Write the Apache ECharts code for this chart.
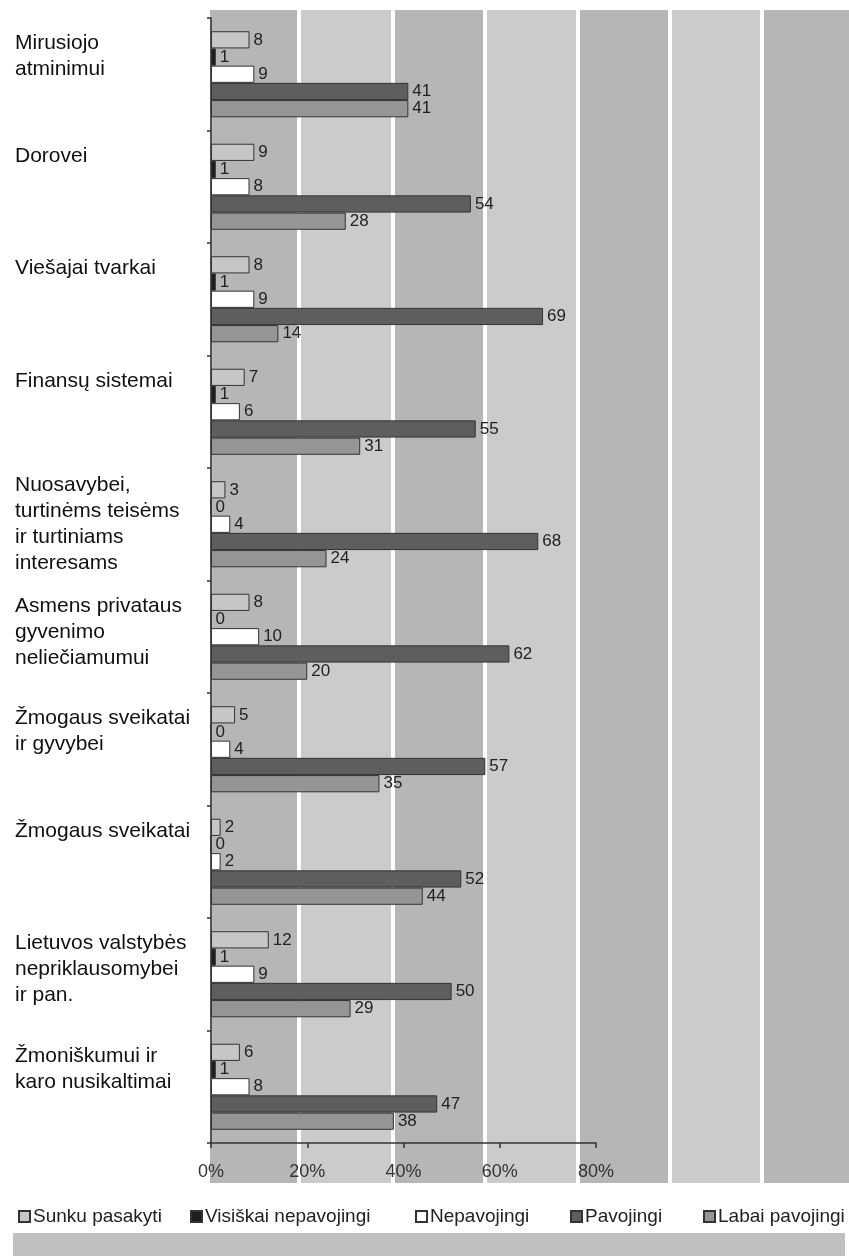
<!DOCTYPE html>
<html>
<head>
<meta charset="utf-8">
<script src="https://cdn.jsdelivr.net/npm/echarts@6/dist/echarts.min.js"></script>
<style>
html,body{margin:0;padding:0;background:#fff;}
#chart{width:849px;height:1256px;}
</style>
</head>
<body>
<div id="chart"></div>
<script>
var categories = [
  'Mirusiojo\natminimui',
  'Dorovei',
  'Viešajai tvarkai',
  'Finansų sistemai',
  'Nuosavybei,\nturtinėms teisėms\nir turtiniams\ninteresams',
  'Asmens privataus\ngyvenimo\nneliečiamumui',
  'Žmogaus sveikatai\nir gyvybei',
  'Žmogaus sveikatai',
  'Lietuvos valstybės\nnepriklausomybei\nir pan.',
  'Žmoniškumui ir\nkaro nusikaltimai'
];
var seriesNames = ['Sunku pasakyti', 'Visiškai nepavojingi', 'Nepavojingi', 'Pavojingi', 'Labai pavojingi'];
var sunkuPasakyti      = [8, 9, 8, 7, 3, 8, 5, 2, 12, 6];
var visiskaiNepavojingi = [1, 1, 1, 1, 0, 0, 0, 0, 1, 1];
var nepavojingi        = [9, 8, 9, 6, 4, 10, 4, 2, 9, 8];
var pavojingi          = [41, 54, 69, 55, 68, 62, 57, 52, 50, 47];
var labaiPavojingi     = [41, 28, 14, 31, 24, 20, 35, 44, 29, 38];
var xTicks = [0, 20, 40, 60, 80];

var seriesValues = [sunkuPasakyti, visiskaiNepavojingi, nepavojingi, pavojingi, labaiPavojingi];
var fills = ['#c6c6c6', '#1e1e1e', '#ffffff', '#5e5e5e', '#959595'];
var FONT = '"Liberation Sans", Arial, Helvetica, sans-serif';

var chart = echarts.init(document.getElementById('chart'), null, {renderer: 'canvas'});

var stripes = [
  [210, 297, '#b6b6b6'], [301, 391, '#cbcbcb'], [395, 483, '#b6b6b6'],
  [487, 576, '#cbcbcb'], [580, 668, '#b6b6b6'], [672, 760, '#cbcbcb'], [764, 849, '#b6b6b6']
];
var graphics = stripes.map(function (s) {
  return {type: 'rect', silent: true, z: -10, shape: {x: s[0], y: 10, width: s[1] - s[0], height: 1173}, style: {fill: s[2]}};
});
graphics.push({type: 'rect', silent: true, z: -10, shape: {x: 13, y: 1233, width: 832, height: 23}, style: {fill: '#c0c0c0'}});

var series = seriesNames.map(function (name, i) {
  return {
    name: name,
    type: 'bar',
    data: seriesValues[i],
    barGap: '0%',
    barCategoryGap: '23.5%',
    itemStyle: {color: fills[i], borderColor: '#333', borderWidth: 1},
    label: {show: true, position: 'right', distance: 4, color: '#222', fontSize: 17, fontFamily: FONT},
    emphasis: {disabled: true}
  };
});

var legendLefts = [13, 185, 410, 565, 698];
var legends = seriesNames.map(function (name, i) {
  return {
    data: [name], left: legendLefts[i], top: 1202, icon: 'rect',
    itemWidth: 11, itemHeight: 11, itemGap: 3,
    textStyle: {fontSize: 19, color: '#222', fontFamily: FONT, padding: [0, 0, 0, -2]},
    selectedMode: false
  };
});

chart.setOption({
  animation: false,
  backgroundColor: '#ffffff',
  graphic: graphics,
  legend: legends,
  grid: {left: 211, right: 253, top: 18, bottom: 113, containLabel: false},
  xAxis: {
    type: 'value', min: xTicks[0], max: xTicks[xTicks.length - 1], interval: 20,
    axisLine: {show: true, lineStyle: {color: '#333', width: 1.5}},
    axisTick: {show: true, length: 5, lineStyle: {color: '#333', width: 1.5}},
    splitLine: {show: false},
    axisLabel: {formatter: '{value}%', fontSize: 18, color: '#333', margin: 20, fontFamily: FONT}
  },
  yAxis: {
    type: 'category', inverse: true, data: categories,
    axisLine: {show: true, lineStyle: {color: '#333', width: 1.5}},
    axisTick: {show: true, length: 4, lineStyle: {color: '#333', width: 1.5}},
    axisLabel: {
      align: 'left', margin: 196, fontSize: 21, lineHeight: 26, color: '#111', fontFamily: FONT,
      formatter: function (v) {
        var n = v.split('\n').length;
        if (n >= 4) return v;
        return v + '\n{s' + n + '| }';
      },
      rich: {
        s1: {lineHeight: 61.5, height: 61.5, fontSize: 10},
        s2: {lineHeight: 35.5, height: 35.5, fontSize: 10},
        s3: {lineHeight: 9.5, height: 9.5, fontSize: 8}
      }
    }
  },
  series: series
});
</script>
</body>
</html>
